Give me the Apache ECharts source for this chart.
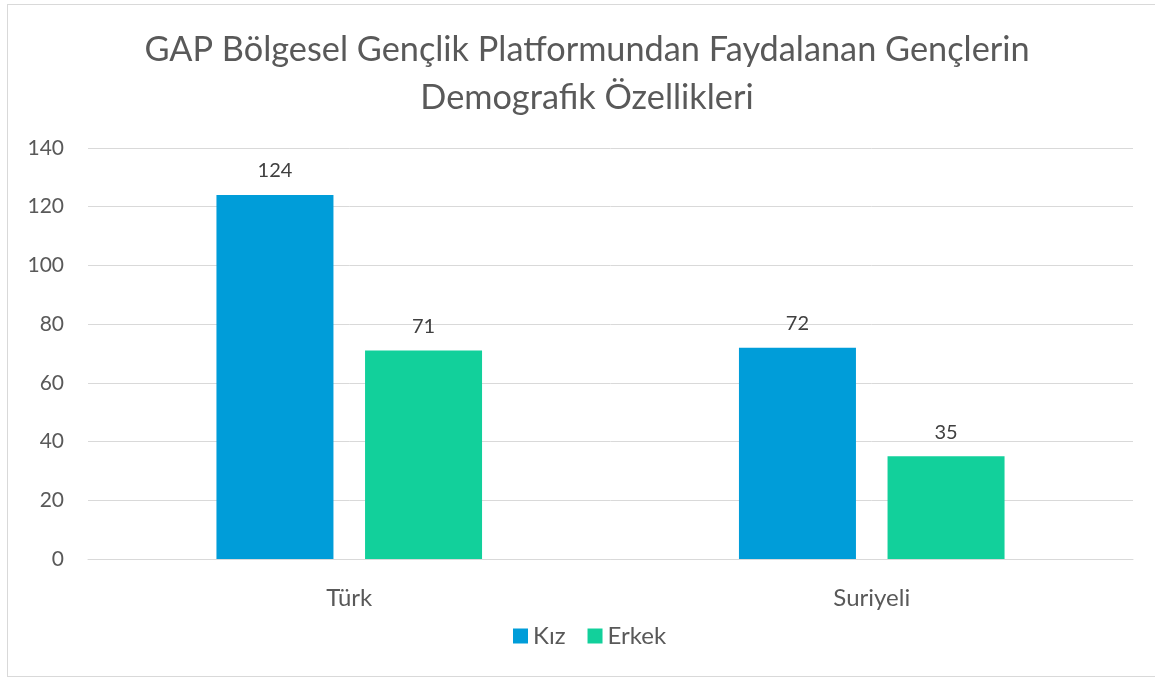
<!DOCTYPE html>
<html>
<head>
<meta charset="utf-8">
<script src="https://cdn.jsdelivr.net/npm/echarts@6/dist/echarts.min.js"></script>
<style>
html,body{margin:0;padding:0;background:#fff;}
#frame{position:absolute;left:7px;top:4px;width:1160px;height:671px;border:1px solid #d9d9d9;}
#chart{position:absolute;left:0;top:0;width:1155px;height:678px;}
</style>
</head>
<body>
<div id="frame"></div>
<div id="chart"></div>
<script>
// kategoriler ve seriler
var categories=['Türk','Suriyeli'];
var kiz=[124,72];
var erkek=[71,35];
var seriesNames=['Kız','Erkek'];

function loadChart(){
    var mychart=echarts.init(document.getElementById('chart'));
    var font='Lato, sans-serif';
    var option={
        textStyle:{fontFamily:font},
        title:{
            text:'GAP Bölgesel Gençlik Platformundan Faydalanan Gençlerin\nDemografik Özellikleri',
            left:582,
            textAlign:'center',
            top:21,
            textStyle:{fontSize:34.3,fontWeight:'normal',color:'#595959',lineHeight:48,fontFamily:font}
        },
        legend:{
            data:seriesNames,
            bottom:25,
            left:508,
            itemWidth:15,
            itemHeight:15,
            itemGap:22,
            icon:'rect',
            textStyle:{fontSize:24,color:'#595959',fontFamily:font}
        },
        grid:{left:88,right:22,top:148,bottom:119,containLabel:false},
        xAxis:{
            type:'category',
            data:categories,
            axisLine:{lineStyle:{color:'#d9d9d9',width:1}},
            axisTick:{show:false},
            axisLabel:{fontSize:24,color:'#595959',margin:27,fontFamily:font}
        },
        yAxis:{
            type:'value',
            min:0,max:140,interval:20,
            axisLine:{show:false},
            axisTick:{show:false},
            splitLine:{lineStyle:{color:'#d9d9d9',width:1}},
            axisLabel:{fontSize:21,color:'#595959',margin:24,fontFamily:font}
        },
        series:[{
            name:seriesNames[0],
            type:'bar',
            data:kiz,
            barWidth:117,
            barGap:'27%',
            itemStyle:{color:'#009dd9'},
            label:{show:true,position:'top',distance:14,fontSize:20,color:'#404040',fontFamily:font}
        },{
            name:seriesNames[1],
            type:'bar',
            data:erkek,
            barWidth:117,
            itemStyle:{color:'#12d09b'},
            label:{show:true,position:'top',distance:14,fontSize:20,color:'#404040',fontFamily:font}
        }]
    };
    mychart.setOption(option);
}
loadChart();
</script>
</body>
</html>
